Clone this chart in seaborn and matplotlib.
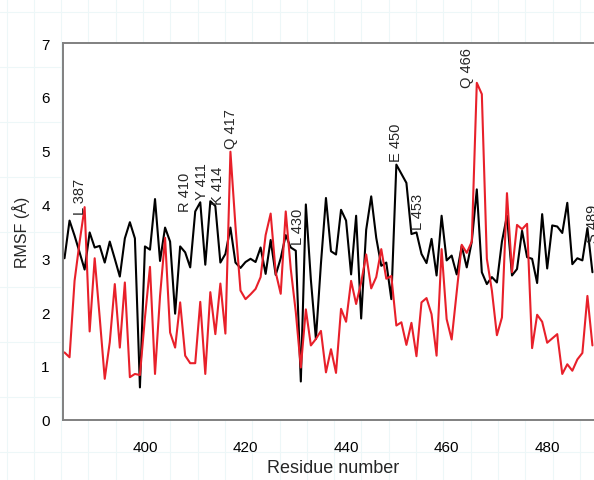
import numpy as np
import pandas as pd
import seaborn as sns
import matplotlib.pyplot as plt

residues = list(range(384, 490))

rmsf_black = [
    3.00, 3.70, 3.42, 3.11, 2.79, 3.48, 3.20, 3.23, 2.92, 3.31,
    2.99, 2.66, 3.37, 3.67, 3.37, 0.60, 3.22, 3.16, 4.10, 2.95,
    3.57, 3.31, 1.97, 3.22, 3.11, 2.83, 3.87, 4.04, 2.88, 4.06,
    3.97, 2.92, 3.08, 3.57, 2.92, 2.82, 2.93, 2.99, 2.93, 3.20,
    2.71, 3.34, 2.69, 3.00, 3.43, 3.20, 3.14, 0.71, 4.00, 2.60,
    1.50, 2.90, 4.12, 3.13, 3.07, 3.90, 3.70, 2.70, 3.79, 1.88,
    3.53, 4.15, 3.38, 2.86, 2.92, 2.24, 4.74, 4.57, 4.40, 3.45,
    3.48, 3.08, 2.91, 3.36, 2.68, 3.79, 2.96, 3.05, 2.70, 3.23,
    2.83, 3.31, 4.28, 2.74, 2.52, 2.65, 2.55, 3.31, 3.79, 2.68,
    2.80, 3.51, 3.02, 2.99, 2.54, 3.82, 2.81, 3.61, 3.59, 3.47,
    4.03, 2.89, 3.00, 2.96, 3.56, 2.74,
]

rmsf_red = [
    1.25, 1.16, 2.58, 3.30, 3.95, 1.64, 3.00, 1.90, 0.76, 1.44,
    2.52, 1.34, 2.55, 0.79, 0.85, 0.83, 1.90, 2.84, 0.85, 2.30,
    3.38, 1.62, 1.34, 2.18, 1.19, 1.05, 1.05, 2.19, 0.85, 2.37,
    1.59, 2.53, 1.60, 4.98, 3.60, 2.40, 2.24, 2.33, 2.43, 2.65,
    3.43, 3.83, 2.74, 2.34, 3.87, 2.80, 2.00, 0.97, 2.05, 1.38,
    1.50, 1.65, 0.88, 1.31, 0.87, 2.06, 1.82, 2.58, 2.15, 2.55,
    3.07, 2.44, 2.65, 3.17, 2.62, 2.67, 1.75, 1.81, 1.39, 1.80,
    1.18, 2.18, 2.26, 1.96, 1.19, 3.17, 1.87, 1.49, 2.37, 3.25,
    3.10, 3.31, 6.26, 6.05, 2.99, 2.40, 1.57, 1.90, 4.21, 2.74,
    3.62, 3.54, 3.64, 1.33, 1.95, 1.82, 1.43, 1.51, 1.59, 0.85,
    1.03, 0.91, 1.12, 1.24, 2.30, 1.38,
]

# residue labels: text, x, y (bottom of rotated text)
label_text = ["L 387", "R 410", "Y 411", "K 414", "Q 417", "L 430", "E 450", "L 453", "Q 466", "S 489"]
label_x = [387.1, 408.0, 411.3, 414.5, 417.2, 430.4, 449.9, 454.4, 464.0, 489.2]
label_y = [3.82, 3.88, 4.10, 4.00, 5.04, 3.27, 4.81, 3.54, 6.18, 3.30]

df = pd.DataFrame({"residue": residues, "black": rmsf_black, "red": rmsf_red})

sns.set_style("white")
plt.rcParams['font.family'] = ['Liberation Sans', 'DejaVu Sans']

W, H = 594, 481
fig = plt.figure(figsize=(W / 100, H / 100), dpi=100)

# faint graph-paper background behind the chart
bg = fig.add_axes([0, 0, 1, 1], zorder=-5)
bg.set_xlim(0, W)
bg.set_ylim(H, 0)
for xv in np.arange(6.5, W, 27.3):
    bg.axvline(xv, color='#edf7f8', lw=0.8)
for yv in np.arange(13, H, 55):
    bg.axhline(yv, color='#edf7f8', lw=0.8)
bg.axis('off')

left, right, top, bottom = 63, 603, 44, 420.7
ax = fig.add_axes([left / W, 1 - bottom / H, (right - left) / W, (bottom - top) / H])
ax.set_facecolor('white')

sns.lineplot(data=df, x='residue', y='black', ax=ax, color='black', lw=1.5)
sns.lineplot(data=df, x='residue', y='red', ax=ax, color='#e8202a', lw=1.5)

for t, x, y in zip(label_text, label_x, label_y):
    ax.text(x, y, t, rotation=90, ha='center', va='bottom', fontsize=10.5, clip_on=False)

ax.set_xlim(383.7, 491.1)
ax.set_ylim(0, 7)
ax.set_xticks(np.arange(400, 481, 20))
ax.set_yticks(np.arange(0, 8, 1))

ax.set_xlabel('Residue number', fontsize=13, labelpad=4)
ax.set_ylabel('RMSF (Å)', fontsize=11.5, labelpad=8)

for side in ['left', 'bottom', 'top']:
    ax.spines[side].set_color('#808080')
    ax.spines[side].set_linewidth(1.4)
ax.spines['right'].set_visible(False)
ax.tick_params(axis='both', direction='out', length=3.5, width=1, color='#808080',
               labelsize=11, labelcolor='black')
ax.tick_params(axis='x', pad=11)
ax.tick_params(axis='y', pad=6)

fig.savefig('out.png', dpi=100)
